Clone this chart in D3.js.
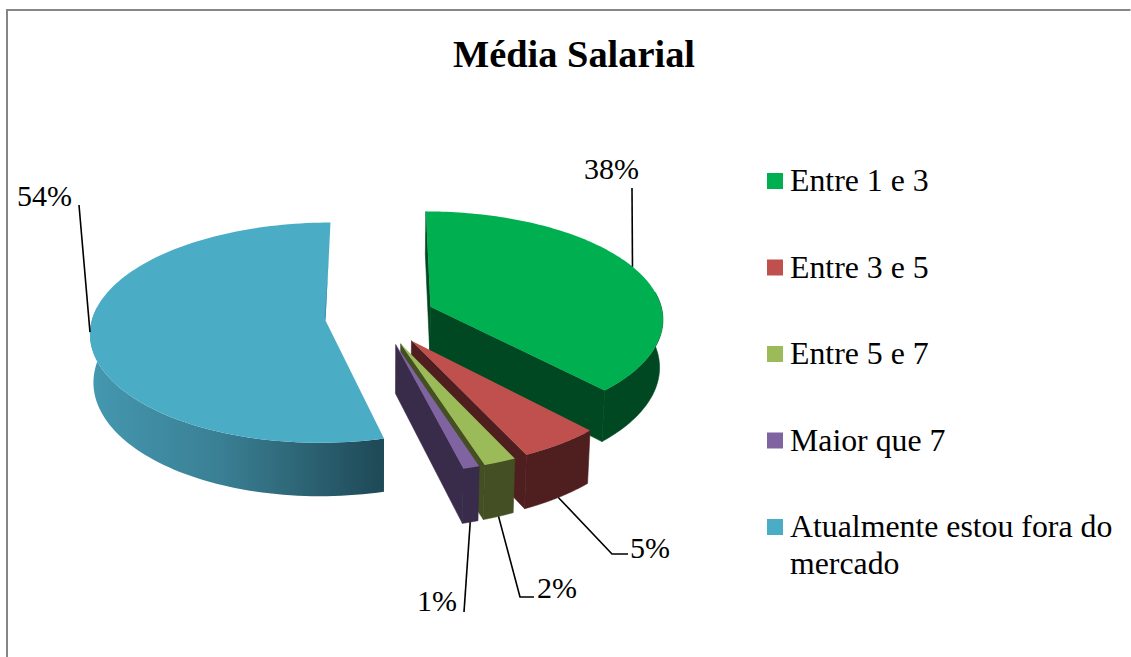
<!DOCTYPE html>
<html><head><meta charset="utf-8">
<script src="https://cdn.jsdelivr.net/npm/d3@7/dist/d3.min.js"></script>
<style>html,body{margin:0;padding:0;background:#fff}svg{display:block}text{font-family:"Liberation Serif","Times New Roman",serif;fill:#000}</style>
</head><body><svg id="c" width="1131" height="657"></svg>
<script>
const title = "Média Salarial";
const categories = ["Entre 1 e 3","Entre 3 e 5","Entre 5 e 7","Maior que 7","Atualmente estou fora do mercado"];
const values = [38,5,2,1,54];
const topColors = ["#00B050","#C0504D","#9BBB59","#8064A2","#4BACC6"];
const wallColors = ["#004822","#4F1F1F","#454F24","#382C4A","url(#blueWall)"];

const svg = d3.select("#c");
const cx=380, cy=317, Rx=233, Ry=108, H=48, kx=0.1, ky=0.11, expl=0.235, explY=1.1, shrink=0.988;

svg.append("path").attr("d","M7,657V10H1130.5").attr("fill","none").attr("stroke","#868686").attr("stroke-width",2);

const grad = svg.append("defs").append("linearGradient").attr("id","blueWall")
  .attr("gradientUnits","userSpaceOnUse").attr("x1",91).attr("x2",379).attr("y1",0).attr("y2",0);
[[0,"#4498B0"],[0.45,"#3A7F94"],[0.75,"#2C6373"],[1,"#1F4A58"]].forEach(s=>grad.append("stop").attr("offset",s[0]).attr("stop-color",s[1]));

const arcs = d3.pie().sort(null).startAngle(0).endAngle(2*Math.PI)(values);
const line = d3.line().x(p=>p[0]).y(p=>p[1]);

function project(X,Y,z){
  const sx=1/(1+kx*Y), sy=1/(1+ky*Y);
  const x=cx+Rx*X*sx;
  return [z? cx+(x-cx)*shrink : x, cy-Ry*Y*sy+z*(H*sy*0.95+2)];
}
const slices = arcs.map((a,i)=>{
  const mid=(a.startAngle+a.endAngle)/2;
  const ox=expl*Math.sin(mid), oy=expl*explY*Math.cos(mid);
  const P=(t,r,z)=>project(ox+r*Math.sin(t),oy+r*Math.cos(t),z);
  return {a,i,mid,P};
});
const samples=(a,b)=>d3.range(0,121).map(k=>a+(b-a)*k/120);

function drawSlice(s){
  const {a,i,P}=s; const g=svg.append("g");
  const ts=samples(a.startAngle,a.endAngle);
  const sc=P(a.startAngle,1,0), ap=P(0,0,0), sb=P(a.startAngle,1,1), ab=P(0,0,1);
  const wallPath=d=>g.append("path").attr("d",d).attr("fill",wallColors[i]).attr("stroke",i<4?wallColors[i]:"none").attr("stroke-width",0.6);
  if(a.startAngle<0.01) wallPath(line([sc,sb,ab,ap])+"Z");
  if(a.endAngle<Math.PI) wallPath(line([ap,P(a.endAngle,1,0),P(a.endAngle,1,1),ab])+"Z");
  const tw=ts.filter(t=>Math.cos(t)<0.15);
  wallPath(line(tw.map(t=>P(t,1,0)).concat(tw.slice().reverse().map(t=>P(t,1,1))))+"Z");
  g.append("path").attr("d",line([ap].concat(ts.map(t=>P(t,1,0))))+"Z").attr("fill",topColors[i]);
  if(a.endAngle>6.2){
    const e=P(a.endAngle,1,0);
    g.append("path").attr("d",line([e,[e[0]-3,e[1]+55],[ap[0]-1,ap[1]-4],ap])+"Z").attr("fill","#3D94AD");
  }
}
[4,0,1,2,3].forEach(i=>drawSlice(slices[i]));

const leaderZ=[0,1,1,1,0];
const leaderTurn=[-0.03,0,0,0,0.02];
const leaderEnds=[[[632,188]],[[612,554],[628,554]],[[520,597],[534,597]],[[464,612]],[[79,205]]];
const labelPos=[[584,179],[630,558],[537,598],[417,611],[17,206]];
slices.forEach((s,i)=>{
  const st=s.P(s.mid+leaderTurn[i],1,leaderZ[i]);
  svg.append("path").attr("d",line([st].concat(leaderEnds[i]))).attr("fill","none").attr("stroke","#000").attr("stroke-width",1.6);
  svg.append("text").attr("x",labelPos[i][0]).attr("y",labelPos[i][1]).attr("font-size",30).text(values[i]+"%");
});

svg.append("text").attr("x",574).attr("y",67).attr("text-anchor","middle")
  .attr("font-size",38.4).attr("font-weight","bold").text(title);

const legY=d3.scalePoint().domain(categories).range([181,527]);
const legendLines=[["Entre 1 e 3"],["Entre 3 e 5"],["Entre 5 e 7"],["Maior que 7"],["Atualmente estou fora do","mercado"]];
categories.forEach((c,i)=>{
  const y=legY(c);
  svg.append("rect").attr("x",767).attr("y",y-8).attr("width",16).attr("height",16).attr("fill",topColors[i]);
  const t=svg.append("text").attr("font-size",31.8);
  legendLines[i].forEach((l,j)=>t.append("tspan").attr("x",790).attr("y",y+10+j*37).text(l));
});
</script></body></html>
